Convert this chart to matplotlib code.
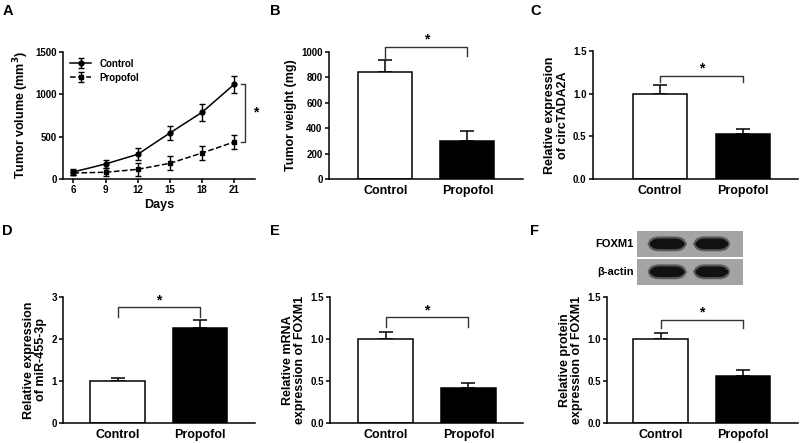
import matplotlib
matplotlib.use("Agg")
import matplotlib.pyplot as plt
from matplotlib.patches import FancyBboxPatch

plt.rcParams['font.family'] = ['Liberation Sans', 'DejaVu Sans']
plt.rcParams['font.weight'] = 'bold'
plt.rcParams['axes.linewidth'] = 1.1

# panel A - tumor volume over time
days = [6, 9, 12, 15, 18, 21]
ctrl_vol = [83, 177, 291, 543, 787, 1118]
ctrl_vol_err = [35, 50, 70, 87, 99, 100]
prop_vol = [71, 79, 114, 185, 307, 437]
prop_vol_err = [30, 47, 75, 83, 87, 87]

groups = ['Control', 'Propofol']
# panels B-F: mean and upper error
weight = [845, 299]
weight_err = [90, 76]
circ = [1.0, 0.522]
circ_err = [0.10, 0.062]
mir = [1.0, 2.27]
mir_err = [0.07, 0.18]
mrna = [1.0, 0.422]
mrna_err = [0.086, 0.05]
protein = [1.0, 0.56]
protein_err = [0.074, 0.075]

fig = plt.figure(figsize=(8, 4.43), dpi=100)


def style(ax):
    ax.spines['top'].set_visible(False)
    ax.spines['right'].set_visible(False)
    ax.tick_params(labelsize=7, width=1.1, length=3, pad=1.5)
    for t in ax.get_xticklabels() + ax.get_yticklabels():
        t.set_fontweight('bold')


def bar_panel(rect, vals, errs, ylim, yticks, ylabel, xlim, br_y, br_drop, fmt):
    ax = fig.add_axes(rect)
    ax.bar([0, 1], vals, width=0.66, color=['white', 'black'],
           edgecolor='black', linewidth=1.1, zorder=2)
    ax.errorbar([0, 1], vals, yerr=[[0, 0], errs], fmt='none', ecolor='black',
                elinewidth=1.1, capsize=5, capthick=1.1, zorder=1)
    ax.set_xlim(*xlim)
    ax.set_ylim(*ylim)
    ax.set_yticks(yticks)
    ax.set_yticklabels([fmt.format(v) for v in yticks])
    ax.set_xticks([0, 1])
    style(ax)
    ax.set_xticklabels(groups, fontsize=9, fontweight='bold')
    ax.tick_params(axis='x', length=0, pad=4)
    ax.set_ylabel(ylabel, fontsize=9, fontweight='bold', labelpad=3, linespacing=1.05)
    ax.plot([0, 0, 1, 1], [br_y - br_drop[0], br_y, br_y, br_y - br_drop[1]],
            color='#333333', lw=1.0, clip_on=False)
    ax.text(0.5, br_y, '*', ha='center', va='bottom', fontsize=10, fontweight='bold')
    return ax


# A
axA = fig.add_axes([0.079, 0.596, 0.240, 0.287])
axA.errorbar(days, ctrl_vol, yerr=ctrl_vol_err, color='black', lw=1.1, marker='o',
             markersize=3.5, capsize=2.5, elinewidth=1.0, label='Control')
axA.errorbar(days, prop_vol, yerr=prop_vol_err, color='black', lw=1.1, ls='--',
             marker='s', markersize=3.5, capsize=2.5, elinewidth=1.0, label='Propofol')
axA.set_xlim(5.05, 22.95)
axA.set_ylim(0, 1500)
axA.set_xticks(days)
axA.set_yticks([0, 500, 1000, 1500])
style(axA)
axA.set_xlabel('Days', fontsize=9, fontweight='bold', labelpad=3)
axA.set_ylabel('Tumor volume (mm$^\\mathbf{3}$)', fontsize=9, fontweight='bold', labelpad=3)
axA.plot([21.6, 22.0, 22.0, 21.6], [1118, 1118, 437, 437], color='#333333', lw=1.0,
         clip_on=False)
axA.text(23.0, 780, '*', ha='center', va='center', fontsize=10, fontweight='bold')
leg = axA.legend(loc='upper left', frameon=False, fontsize=7, handlelength=2.2,
                 borderaxespad=0.3, labelspacing=0.4)
for t in leg.get_texts():
    t.set_fontweight('bold')

# B
bar_panel([0.411, 0.596, 0.243, 0.287], weight, weight_err, (0, 1000),
          [0, 200, 400, 600, 800, 1000], 'Tumor weight (mg)', (-0.69, 1.68),
          1039, (110, 75), '{:.0f}')
# C
bar_panel([0.741, 0.596, 0.256, 0.289], circ, circ_err, (0, 1.5),
          [0, 0.5, 1.0, 1.5], 'Relative expression\nof circTADA2A', (-0.81, 1.66),
          1.21, (0.07, 0.07), '{:.1f}')
# D
bar_panel([0.079, 0.045, 0.240, 0.285], mir, mir_err, (0, 3),
          [0, 1, 2, 3], 'Relative expression\nof miR-455-3p', (-0.66, 1.67),
          2.75, (0.22, 0.22), '{:.0f}')
# E
bar_panel([0.4125, 0.045, 0.2415, 0.285], mrna, mrna_err, (0, 1.5),
          [0, 0.5, 1.0, 1.5], 'Relative mRNA\nexpression of FOXM1', (-0.67, 1.66),
          1.255, (0.11, 0.11), '{:.1f}')
# F
bar_panel([0.759, 0.045, 0.238, 0.285], protein, protein_err, (0, 1.5),
          [0, 0.5, 1.0, 1.5], 'Relative protein\nexpression of FOXM1', (-0.65, 1.67),
          1.23, (0.1, 0.1), '{:.1f}')

# western blot strips
blot_labels = ['FOXM1', '\u03b2-actin']
blot_bottoms = [0.420, 0.357]
band_spans = [(0.11, 0.46), (0.54, 0.87)]
for lab, b in zip(blot_labels, blot_bottoms):
    bx = fig.add_axes([0.796, b, 0.133, 0.059])
    bx.set_facecolor('#a4a4a4')
    bx.set_xlim(0, 1)
    bx.set_ylim(0, 1)
    for x0, x1 in band_spans:
        bx.add_patch(FancyBboxPatch((x0, 0.24), x1 - x0, 0.52,
                                    boxstyle='round,pad=0.0,rounding_size=0.1',
                                    color='#4a4a4a', alpha=0.7, mutation_aspect=3))
        bx.add_patch(FancyBboxPatch((x0 + 0.02, 0.32), x1 - x0 - 0.04, 0.36,
                                    boxstyle='round,pad=0.0,rounding_size=0.08',
                                    color='#111111', mutation_aspect=3))
    bx.set_xticks([])
    bx.set_yticks([])
    for s in bx.spines.values():
        s.set_visible(False)
    fig.text(0.792, b + 0.029, lab, ha='right', va='center', fontsize=8, fontweight='bold')

# panel letters
for lab, x, y in [('A', 0.003, 0.99), ('B', 0.338, 0.99), ('C', 0.663, 0.99),
                  ('D', 0.003, 0.495), ('E', 0.338, 0.495), ('F', 0.663, 0.495)]:
    fig.text(x, y, lab, fontsize=10.5, fontweight='bold', va='top')

fig.savefig('out.png', dpi=100)
